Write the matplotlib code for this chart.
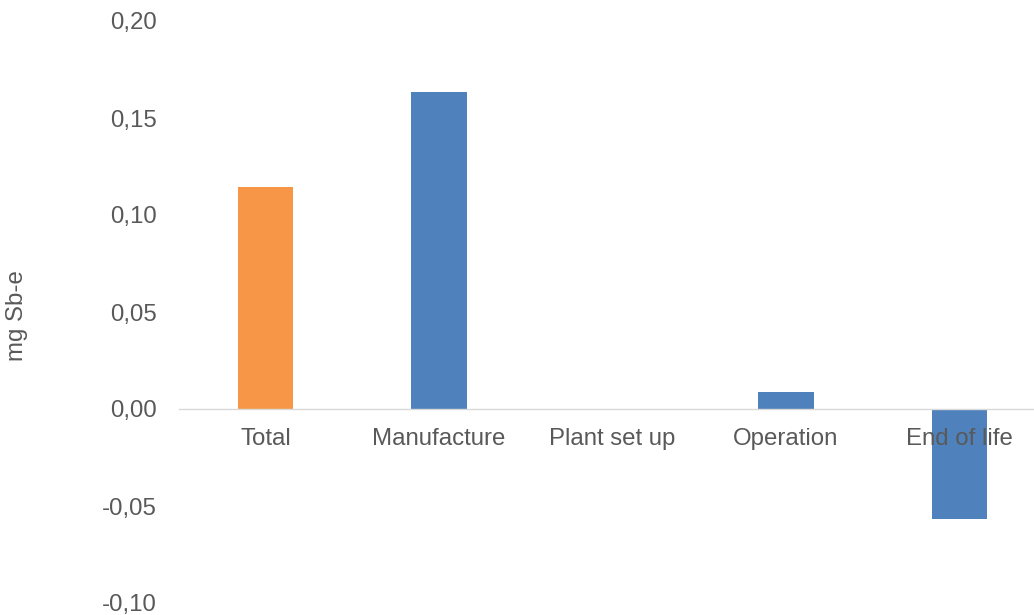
import numpy as np
import matplotlib.pyplot as plt

plt.rcParams['font.family'] = ['Liberation Sans', 'DejaVu Sans']

categories = ["Total", "Manufacture", "Plant set up", "Operation", "End of life"]
values = [0.1144, 0.1634, 0.0, 0.0088, -0.0567]
bar_colors = ["#F79646", "#4F81BD", "#4F81BD", "#4F81BD", "#4F81BD"]
yticks = [-0.10, -0.05, 0.00, 0.05, 0.10, 0.15, 0.20]

fig = plt.figure(figsize=(10.34, 6.15), dpi=100)
ax = fig.add_axes([179 / 1034, 1 - 603 / 615, 867 / 1034, 582 / 615])

x = np.arange(len(categories))
ax.bar(x, values, width=0.32, color=bar_colors, zorder=1)

ax.set_xlim(-0.5, len(categories) - 0.5)
ax.set_ylim(-0.10, 0.20)
ax.set_yticks(yticks)
ax.set_yticklabels([f"{v:.2f}".replace(".", ",") for v in yticks])
ax.set_xticks(x)
ax.set_xticklabels(categories)

for s in ["left", "right", "top"]:
    ax.spines[s].set_visible(False)
ax.spines["bottom"].set_position(("data", 0))
ax.spines["bottom"].set_color("#D9D9D9")
ax.spines["bottom"].set_linewidth(1.0)

ax.tick_params(axis="both", length=0, labelsize=17.3, labelcolor="#595959")
ax.tick_params(axis="y", pad=16)
ax.tick_params(axis="x", pad=13.5)

fig.text(17 / 1034, 1 - 316 / 615, "mg Sb-e", rotation=90, fontsize=17.3,
         color="#595959", ha="center", va="center")

fig.savefig("out.png", dpi=100)
